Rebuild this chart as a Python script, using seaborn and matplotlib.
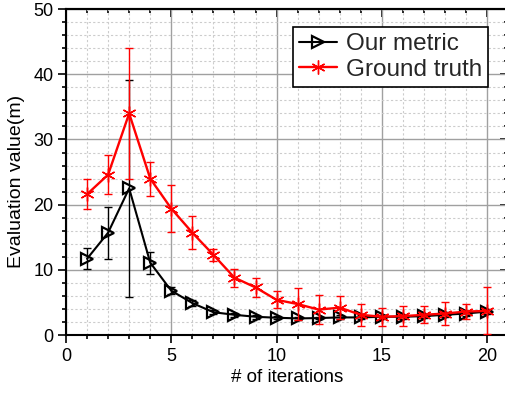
import numpy as np
import pandas as pd
import matplotlib
matplotlib.use('Agg')
import matplotlib.pyplot as plt
from matplotlib.ticker import MultipleLocator, NullFormatter
import seaborn as sns

# values
iterations = list(range(1, 21))
metric_mean = [11.7, 15.7, 22.5, 11.1, 6.8, 4.9, 3.5, 3.1, 2.8, 2.65,
               2.55, 2.6, 2.7, 2.7, 2.8, 2.8, 2.9, 3.1, 3.3, 3.6]
metric_err = [1.6, 4.0, 16.7, 1.7, 0.5, 0.4, 0.3, 0.3, 0.3, 0.2,
              0.2, 0.2, 0.3, 0.3, 0.3, 0.3, 0.3, 0.4, 0.4, 0.4]
truth_mean = [21.6, 24.6, 34.0, 24.0, 19.4, 15.7, 12.3, 8.8, 7.3, 5.4,
              4.75, 3.9, 4.2, 3.1, 2.8, 2.9, 3.1, 3.3, 3.6, 3.7]
truth_err = [2.3, 3.0, 10.0, 2.6, 3.6, 2.5, 0.9, 1.4, 1.5, 1.3,
             2.5, 2.2, 1.8, 1.7, 1.4, 1.5, 1.3, 1.8, 1.2, 3.6]

df = pd.DataFrame({'iter': iterations, 'metric': metric_mean, 'truth': truth_mean})

sns.set_theme(style='white')
plt.rcParams['font.family'] = ['Liberation Sans', 'DejaVu Sans']

fig = plt.figure(figsize=(5.06, 3.96), dpi=100)
ax = fig.add_axes([0.1304, 0.154, 0.874, 0.823])

# error bars
ax.errorbar(iterations, metric_mean, yerr=metric_err, fmt='none', ecolor='black',
            elinewidth=1, capsize=2.7, capthick=1, zorder=2)
sns.lineplot(data=df, x='iter', y='metric', ax=ax, color='black', lw=1.5,
             marker='>', markersize=9, markerfacecolor='none', markeredgecolor='black',
             markeredgewidth=1.6, label='Our metric', zorder=3)
ax.errorbar(iterations, truth_mean, yerr=truth_err, fmt='none', ecolor='red',
            elinewidth=1, capsize=2.7, capthick=1, zorder=4)
sns.lineplot(data=df, x='iter', y='truth', ax=ax, color='red', lw=1.7,
             marker=(6, 2, 0), markersize=10, markeredgecolor='red',
             markeredgewidth=1.0, label='Ground truth', zorder=5)

ax.set_xlim(0, 21)
ax.set_ylim(0, 50)
ax.set_xticks([0, 5, 10, 15, 20])
ax.xaxis.set_minor_locator(MultipleLocator(1))
ax.yaxis.set_major_locator(MultipleLocator(10))
ax.yaxis.set_minor_locator(MultipleLocator(2))

ax.grid(which='major', color='#a0a0a0', lw=1, ls='-', zorder=0)
ax.grid(which='minor', color='#cccccc', lw=0.8, ls=(0, (2, 2)), zorder=0)
ax.set_axisbelow(True)

for s in ax.spines.values():
    s.set_color('black')
    s.set_linewidth(1.5)

# bottom/left ticks point out
ax.tick_params(which='both', direction='out', bottom=True, left=True, top=False, right=False,
               labelsize=13, colors='black', width=1.2, pad=3)
ax.tick_params(which='major', length=6)
ax.tick_params(which='minor', length=3)

# top/right ticks point in
top = ax.secondary_xaxis('top')
top.set_xticks([0, 5, 10, 15, 20])
top.xaxis.set_minor_locator(MultipleLocator(1))
top.xaxis.set_major_formatter(NullFormatter())
right = ax.secondary_yaxis('right')
right.yaxis.set_major_locator(MultipleLocator(10))
right.yaxis.set_minor_locator(MultipleLocator(2))
right.yaxis.set_major_formatter(NullFormatter())
for sec in (top, right):
    sec.tick_params(which='both', direction='in', colors='black', width=1.2)
    sec.tick_params(which='major', length=6)
    sec.tick_params(which='minor', length=3)
    for s in sec.spines.values():
        s.set_linewidth(1.5)
        s.set_color('black')

ax.set_xlabel('# of iterations', fontsize=13.5, labelpad=3, color='black')
ax.set_ylabel('Evaluation value(m)', fontsize=14, labelpad=6, color='black')
ax.yaxis.set_label_coords(-0.093, 0.47)

leg = ax.legend(loc='upper right', bbox_to_anchor=(0.955, 0.945), fontsize=17.5,
                frameon=True, fancybox=False, edgecolor='black', framealpha=1,
                handlelength=1.6, handletextpad=0.35, borderpad=0.25, labelspacing=0.15,
                borderaxespad=0)
leg.get_frame().set_linewidth(1.2)

fig.savefig('out.png', dpi=100)
